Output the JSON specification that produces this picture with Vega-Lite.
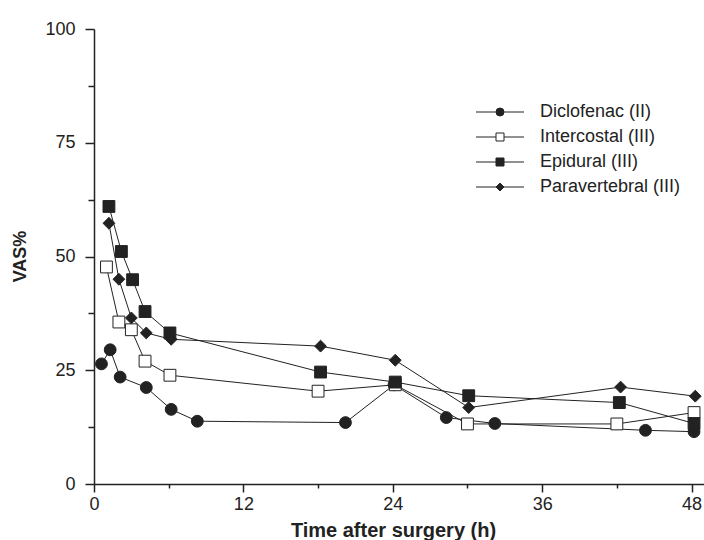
{
  "$schema": "https://vega.github.io/schema/vega-lite/v6.json",
  "width": 610,
  "height": 455,
  "autosize": {"type": "none"},
  "padding": {"left": 94, "top": 29, "right": 0, "bottom": 56},
  "background": "white",
  "config": {
    "view": {"stroke": null},
    "font": "Liberation Sans",
    "axis": {"grid": false, "domainColor": "#222", "tickColor": "#222", "labelColor": "#222", "titleColor": "#222", "labelFont": "Liberation Sans", "titleFont": "Liberation Sans", "domainWidth": 1.5, "tickWidth": 1.5}
  },
  "data": {
    "values": [
      {"series": "Diclofenac (II)", "time": 0.6, "vas": 26.4},
      {"series": "Diclofenac (II)", "time": 1.3, "vas": 29.5},
      {"series": "Diclofenac (II)", "time": 2.1, "vas": 23.5},
      {"series": "Diclofenac (II)", "time": 4.2, "vas": 21.2},
      {"series": "Diclofenac (II)", "time": 6.2, "vas": 16.4},
      {"series": "Diclofenac (II)", "time": 8.3, "vas": 13.8},
      {"series": "Diclofenac (II)", "time": 20.2, "vas": 13.5},
      {"series": "Diclofenac (II)", "time": 24.1, "vas": 21.8},
      {"series": "Diclofenac (II)", "time": 28.3, "vas": 14.6},
      {"series": "Diclofenac (II)", "time": 32.2, "vas": 13.3},
      {"series": "Diclofenac (II)", "time": 44.3, "vas": 11.8},
      {"series": "Diclofenac (II)", "time": 48.2, "vas": 11.5},
      {"series": "Intercostal (III)", "time": 1.0, "vas": 47.7},
      {"series": "Intercostal (III)", "time": 2.0, "vas": 35.6},
      {"series": "Intercostal (III)", "time": 3.0, "vas": 33.9},
      {"series": "Intercostal (III)", "time": 4.1, "vas": 27.0},
      {"series": "Intercostal (III)", "time": 6.1, "vas": 23.9},
      {"series": "Intercostal (III)", "time": 18.0, "vas": 20.4},
      {"series": "Intercostal (III)", "time": 24.2, "vas": 21.8},
      {"series": "Intercostal (III)", "time": 30.0, "vas": 13.2},
      {"series": "Intercostal (III)", "time": 42.0, "vas": 13.2},
      {"series": "Intercostal (III)", "time": 48.2, "vas": 15.7},
      {"series": "Epidural (III)", "time": 1.2, "vas": 61.0},
      {"series": "Epidural (III)", "time": 2.2, "vas": 51.1},
      {"series": "Epidural (III)", "time": 3.1, "vas": 44.9},
      {"series": "Epidural (III)", "time": 4.1, "vas": 37.9},
      {"series": "Epidural (III)", "time": 6.1, "vas": 33.2},
      {"series": "Epidural (III)", "time": 18.2, "vas": 24.6},
      {"series": "Epidural (III)", "time": 24.2, "vas": 22.4},
      {"series": "Epidural (III)", "time": 30.1, "vas": 19.4},
      {"series": "Epidural (III)", "time": 42.2, "vas": 17.9},
      {"series": "Epidural (III)", "time": 48.2, "vas": 13.3},
      {"series": "Paravertebral (III)", "time": 1.2, "vas": 57.3},
      {"series": "Paravertebral (III)", "time": 2.0, "vas": 45.0},
      {"series": "Paravertebral (III)", "time": 3.0, "vas": 36.5},
      {"series": "Paravertebral (III)", "time": 4.2, "vas": 33.2},
      {"series": "Paravertebral (III)", "time": 6.2, "vas": 31.8},
      {"series": "Paravertebral (III)", "time": 18.2, "vas": 30.3},
      {"series": "Paravertebral (III)", "time": 24.2, "vas": 27.2},
      {"series": "Paravertebral (III)", "time": 30.1, "vas": 16.8},
      {"series": "Paravertebral (III)", "time": 42.3, "vas": 21.3},
      {"series": "Paravertebral (III)", "time": 48.3, "vas": 19.3}
    ]
  },
  "resolve": {
    "axis": {"x": "independent", "y": "independent"},
    "scale": {"stroke": "independent", "fill": "independent", "shape": "independent"},
    "legend": {"stroke": "independent", "fill": "independent", "shape": "independent"}
  },
  "layer": [
    {
      "mark": {"type": "line", "color": "#222", "strokeWidth": 1},
      "encoding": {
        "x": {"field": "time", "type": "quantitative", "scale": {"domain": [0, 49], "nice": false, "zero": false},
          "axis": {"orient": "bottom", "values": [0, 12, 24, 36, 48], "tickSize": 8, "labelFontSize": 18, "labelPadding": 3, "title": "Time after surgery (h)", "titleFontSize": 20, "titleFontWeight": "bold", "titleX": 299, "titleY": 52, "titleBaseline": "alphabetic", "titleAlign": "center", "labelFlush": false}},
        "y": {"field": "vas", "type": "quantitative", "scale": {"domain": [0, 100], "nice": false},
          "axis": {"orient": "left", "values": [0, 25, 50, 75, 100], "tickSize": 9, "labelPadding": 10, "labelFontSize": 18, "title": "VAS%", "titleFontSize": 18, "titleFontWeight": "bold", "titleX": -74, "titleY": 227, "titleAngle": 270, "titleBaseline": "middle", "titleAlign": "center"}},
        "stroke": {"field": "series", "type": "nominal",
          "scale": {"domain": ["Diclofenac (II)", "Intercostal (III)", "Epidural (III)", "Paravertebral (III)"], "range": ["#222", "#222", "#222", "#222"]},
          "legend": {"orient": "none", "legendX": 397, "legendY": 74, "title": null, "symbolType": "M-6,0H6", "symbolSize": 64, "symbolStrokeWidth": 1, "labelFontSize": 18, "labelOffset": 31, "rowPadding": 7, "padding": 0, "labelOpacity": 0}}
      }
    },
    {
      "mark": {"type": "point", "filled": true, "strokeWidth": 1, "size": 140, "opacity": 1},
      "encoding": {
        "x": {"field": "time", "type": "quantitative",
          "axis": {"orient": "bottom", "values": [6, 18, 30, 42], "labels": false, "domain": false, "tickSize": 4, "title": null}},
        "y": {"field": "vas", "type": "quantitative",
          "axis": {"orient": "left", "values": [12.5, 37.5, 62.5, 87.5], "labels": false, "domain": false, "tickSize": 6, "title": null}},
        "stroke": {"field": "series", "type": "nominal",
          "scale": {"domain": ["Diclofenac (II)", "Intercostal (III)", "Epidural (III)", "Paravertebral (III)"], "range": ["#222", "#222", "#222", "#222"]},
          "legend": {"orient": "none", "legendX": 397, "legendY": 74, "title": null, "symbolSize": 64, "symbolStrokeWidth": 1, "labelFontSize": 18, "labelOffset": 31, "rowPadding": 7, "padding": 0, "labelColor": "#222"}},
        "fill": {"field": "series", "type": "nominal",
          "scale": {"domain": ["Diclofenac (II)", "Intercostal (III)", "Epidural (III)", "Paravertebral (III)"], "range": ["#222", "white", "#222", "#222"]},
          "legend": {"orient": "none", "legendX": 397, "legendY": 74, "title": null, "symbolSize": 64, "symbolStrokeWidth": 1, "labelFontSize": 18, "labelOffset": 31, "rowPadding": 7, "padding": 0, "labelColor": "#222"}},
        "shape": {"field": "series", "type": "nominal",
          "scale": {"domain": ["Diclofenac (II)", "Intercostal (III)", "Epidural (III)", "Paravertebral (III)"], "range": ["circle", "square", "square", "diamond"]},
          "legend": {"orient": "none", "legendX": 397, "legendY": 74, "title": null, "symbolSize": 64, "symbolStrokeWidth": 1, "labelFontSize": 18, "labelOffset": 31, "rowPadding": 7, "padding": 0, "labelColor": "#222"}}
      }
    }
  ]
}
